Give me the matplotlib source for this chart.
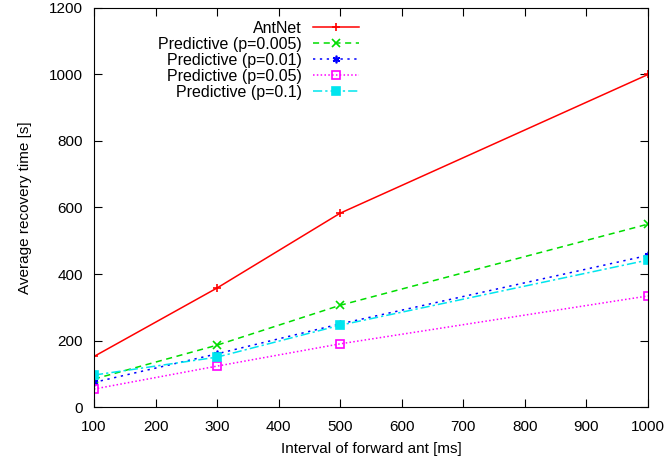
import matplotlib
matplotlib.use("Agg")
from matplotlib import pyplot as plt

plt.rcParams['font.family'] = ['Liberation Sans', 'DejaVu Sans']

intervals = [100, 300, 500, 1000]
antnet = [152, 358, 583, 1000]
pred_0005 = [84, 186, 306, 550]
pred_001 = [74, 160, 250, 456]
pred_005 = [54, 123, 190, 334]
pred_01 = [96, 150, 246, 442]

series = [
    # (values, label, colour, linestyle, marker, filled)
    (antnet, "AntNet", "#ff0000", "-", "+", True),
    (pred_0005, "Predictive (p=0.005)", "#00dd00", (0, (4, 3)), "x", True),
    (pred_001, "Predictive (p=0.01)", "#0000ff", (0, (1.5, 3)), (6, 2, 0), True),
    (pred_005, "Predictive (p=0.05)", "#ff00ff", (0, (1, 1.5)), "s", False),
    (pred_01, "Predictive (p=0.1)", "#00e5ee", (0, (6, 2, 1.5, 2)), "s", True),
]

fig = plt.figure(figsize=(6.66, 4.61), dpi=100)
ax = fig.add_axes([94 / 666, 54 / 461, 554 / 666, 399 / 461])

for vals, label, col, ls, mk, filled in series:
    ax.plot(intervals, vals, color=col, linestyle=ls, linewidth=1.1,
            marker=mk, markersize=5.5, markeredgewidth=1.2,
            markerfacecolor=col if filled else 'none', markeredgecolor=col,
            label=label)

ax.set_xlim(100, 1000)
ax.set_ylim(0, 1200)
ax.set_xticks(range(100, 1001, 100))
ax.set_yticks(range(0, 1201, 200))
ax.tick_params(direction='in', top=True, right=True, length=6, labelsize=11)
ax.tick_params(axis='x', pad=9)
ax.tick_params(axis='y', pad=8)
ax.set_xlabel('Interval of forward ant [ms]', fontsize=11, labelpad=6)
ax.set_ylabel('Average recovery time [s]', fontsize=11, labelpad=12)

leg = ax.legend(loc='upper right', bbox_to_anchor=(278 / 554, 1.0), frameon=False,
                markerfirst=False, fontsize=11.5, handlelength=2.9,
                labelspacing=0.06, borderaxespad=0.4, handletextpad=0.7)
for t in leg.get_texts():
    t.set_ha('right')

plt.savefig("out.png", dpi=100)
